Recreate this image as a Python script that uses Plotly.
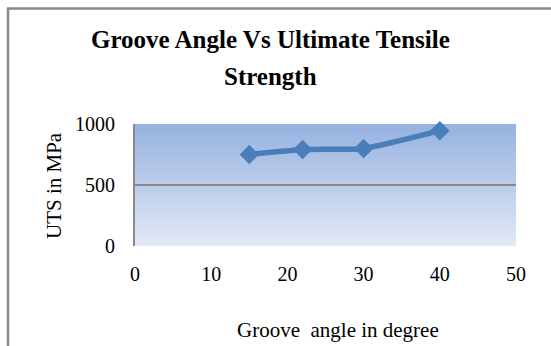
import plotly.graph_objects as go

# Data
groove_angle = [15, 22, 30, 40]
uts_mpa = [750, 790, 800, 945]
x_ticks = [0, 10, 20, 30, 40, 50]
y_ticks = [0, 500, 1000]

title_line1 = "Groove Angle Vs Ultimate Tensile"
title_line2 = "Strength"
x_title = "Groove  angle in degree"
y_title = "UTS in MPa"

FONT = "Liberation Serif, Times New Roman, serif"
W, H = 551, 346
L, R, T, B = 135, 35, 124, 100
pw, ph = W - L - R, H - T - B

fig = go.Figure()
fig.add_trace(go.Scatter(
    x=groove_angle, y=uts_mpa, mode="lines+markers",
    line=dict(color="#4A7EBB", width=5.5, shape="spline", smoothing=0.6),
    marker=dict(symbol="diamond", size=15, color="#4A7EBB"),
    showlegend=False, cliponaxis=False, hoverinfo="skip",
))

# gradient background of plot area
top = (150, 178, 224)
bot = (226, 232, 245)
N = 80
shapes = []
for i in range(N):
    f = (i + 0.5) / N
    c = tuple(round(bot[k] + (top[k] - bot[k]) * f) for k in range(3))
    shapes.append(dict(type="rect", xref="x domain", yref="y domain",
                       x0=0, x1=1, y0=i / N, y1=min(1, (i + 1) / N + 0.012),
                       fillcolor="rgb(%d,%d,%d)" % c, line=dict(width=0),
                       layer="below"))
# outer chart frame
px = lambda v: (v - L) / pw
py = lambda v: (H - B - v) / ph
shapes.append(dict(type="line", xref="paper", yref="paper",
                   x0=px(8), x1=px(8), y0=py(8), y1=py(360),
                   line=dict(color="#888888", width=2.5)))
shapes.append(dict(type="line", xref="paper", yref="paper",
                   x0=px(7), x1=px(560), y0=py(8.5), y1=py(8.5),
                   line=dict(color="#888888", width=2.5)))

annotations = [
    dict(text="<b>%s</b>" % title_line1, x=px(270), y=py(40), xref="paper", yref="paper",
         showarrow=False, font=dict(family=FONT, size=25, color="black"), xanchor="center", yanchor="middle"),
    dict(text="<b>%s</b>" % title_line2, x=px(270), y=py(76), xref="paper", yref="paper",
         showarrow=False, font=dict(family=FONT, size=25, color="black"), xanchor="center", yanchor="middle"),
    dict(text=x_title, x=px(338), y=py(330), xref="paper", yref="paper",
         showarrow=False, font=dict(family=FONT, size=21, color="black"), xanchor="center", yanchor="middle"),
    dict(text=y_title, x=px(54), y=py(186), xref="paper", yref="paper", textangle=-90,
         showarrow=False, font=dict(family=FONT, size=21, color="black"), xanchor="center", yanchor="middle"),
]

fig.update_layout(
    width=W, height=H,
    margin=dict(l=L, r=R, t=T, b=B),
    paper_bgcolor="white", plot_bgcolor="rgba(0,0,0,0)",
    shapes=shapes, annotations=annotations,
    font=dict(family=FONT, size=20, color="black"),
    xaxis=dict(range=[0, 50], tickvals=x_ticks, showgrid=False, zeroline=False,
               showline=False, ticks="", ticklabelstandoff=14,
               tickfont=dict(family=FONT, size=20, color="black")),
    yaxis=dict(range=[0, 1000], tickvals=y_ticks, showgrid=True, gridcolor="#8a8a8a",
               gridwidth=2, zeroline=False, showline=True, linecolor="#8a8a8a", linewidth=2,
               ticks="", ticklabelstandoff=14,
               tickfont=dict(family=FONT, size=20, color="black")),
)

fig.write_html("out.html", config={"displayModeBar": False},
               post_script="document.body.style.margin='0';document.body.style.overflow='hidden';")
